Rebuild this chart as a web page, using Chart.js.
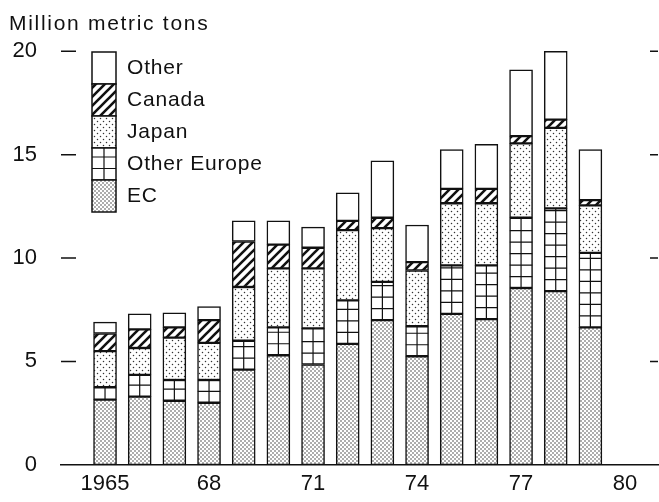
<!DOCTYPE html>
<html>
<head>
<meta charset="utf-8">
<script src="https://cdn.jsdelivr.net/npm/chart.js@4.4.1/dist/chart.umd.min.js"></script>
<style>
  html, body { margin: 0; padding: 0; background: #fff; }
  #wrap { width: 659px; height: 502px; }
</style>
</head>
<body>
<div id="wrap"><canvas id="myChart" width="659" height="502"></canvas></div>
<script>
// values, million metric tons
const years = [1965, 1966, 1967, 1968, 1969, 1970, 1971, 1972, 1973, 1974, 1975, 1976, 1977, 1978, 1979];
const ecData          = [3.15, 3.3, 3.1, 3.0, 4.6, 5.3, 4.85, 5.85, 7.0, 5.25, 7.3, 7.05, 8.55, 8.4, 6.65];
const otherEuropeData = [0.6, 1.05, 1.0, 1.1, 1.4, 1.35, 1.75, 2.1, 1.85, 1.45, 2.35, 2.6, 3.4, 4.0, 3.6];
const japanData       = [1.75, 1.3, 2.05, 1.8, 2.6, 2.85, 2.9, 3.4, 2.6, 2.7, 3.0, 3.0, 3.6, 3.9, 2.3];
const canadaData      = [0.85, 0.9, 0.5, 1.1, 2.2, 1.15, 1.0, 0.45, 0.5, 0.4, 0.7, 0.7, 0.35, 0.4, 0.25];
const otherData       = [0.55, 0.75, 0.7, 0.65, 1.0, 1.15, 1.0, 1.35, 2.75, 1.8, 1.9, 2.15, 3.2, 3.3, 2.45];
const seriesNames = ['EC', 'Other Europe', 'Japan', 'Canada', 'Other'];
const xTickYears = [1965, 1968, 1971, 1974, 1977, 1980];
const yTickValues = [0, 5, 10, 15, 20];

const FONT = '"Liberation Sans", Arial, Helvetica, sans-serif';
const INK = '#111';

function dotPattern(size, r, shade) {
    const c = document.createElement('canvas');
    c.width = c.height = size;
    const g = c.getContext('2d');
    g.fillStyle = '#fff';
    g.fillRect(0, 0, size, size);
    g.fillStyle = shade;
    [[size / 4, size / 4], [size * 3 / 4, size * 3 / 4]].forEach(p => {
        g.beginPath();
        g.arc(p[0], p[1], r, 0, Math.PI * 2);
        g.fill();
    });
    return g.createPattern(c, 'repeat');
}

function hatchPattern() {
    const s = 9;
    const c = document.createElement('canvas');
    c.width = c.height = s;
    const g = c.getContext('2d');
    g.fillStyle = '#fff';
    g.fillRect(0, 0, s, s);
    g.strokeStyle = '#111';
    g.lineWidth = 2.6;
    g.beginPath();
    g.moveTo(-1, s + 1); g.lineTo(s + 1, -1);
    g.moveTo(-2, 2); g.lineTo(2, -2);
    g.moveTo(s - 2, s + 2); g.lineTo(s + 2, s - 2);
    g.stroke();
    return g.createPattern(c, 'repeat');
}

const fills = [dotPattern(4, 0.75, '#333'), '#fff', dotPattern(6, 0.75, '#333'), hatchPattern(), '#fff'];
const seriesValues = [ecData, otherEuropeData, japanData, canadaData, otherData];

// grid lines inside an "Other Europe" box
function drawGridCells(ctx, left, top, right, bottom) {
    ctx.save();
    ctx.beginPath();
    ctx.rect(left, top, right - left, bottom - top);
    ctx.clip();
    ctx.strokeStyle = INK;
    ctx.lineWidth = 1.2;
    ctx.beginPath();
    const mid = (left + right) / 2;
    ctx.moveTo(mid, top); ctx.lineTo(mid, bottom);
    for (let y = bottom - 11.5; y > top + 2; y -= 11.5) {
        ctx.moveTo(left, y); ctx.lineTo(right, y);
    }
    ctx.stroke();
    ctx.restore();
}

const decorPlugin = {
    id: 'decor',
    afterDatasetsDraw(chart) {
        const ctx = chart.ctx;
        const area = chart.chartArea;
        const yAxis = chart.scales.y;

        // cells on the Other Europe bars
        chart.getDatasetMeta(1).data.forEach(bar => {
            const half = bar.width / 2;
            drawGridCells(ctx, bar.x - half, bar.y, bar.x + half, bar.base);
        });

        // short dashes at both sides
        ctx.save();
        ctx.strokeStyle = INK;
        ctx.lineWidth = 1.5;
        yTickValues.forEach(v => {
            if (v === 0) return;
            const y = yAxis.getPixelForValue(v);
            ctx.beginPath();
            ctx.moveTo(area.left, y); ctx.lineTo(area.left + 15, y);
            ctx.moveTo(area.right - 8, y); ctx.lineTo(area.right, y);
            ctx.stroke();
        });
        ctx.restore();

        // legend column
        ctx.save();
        const lx = 92, lw = 24, lh = 32;
        let ly = 52;
        for (let i = seriesNames.length - 1; i >= 0; i--) {
            ctx.fillStyle = fills[i];
            ctx.fillRect(lx, ly, lw, lh);
            if (i === 1) drawGridCells(ctx, lx, ly, lx + lw, ly + lh);
            ctx.strokeStyle = INK;
            ctx.lineWidth = 1.5;
            ctx.strokeRect(lx, ly, lw, lh);
            ctx.fillStyle = INK;
            ctx.font = '21px ' + FONT;
            ctx.letterSpacing = '0.8px';
            ctx.textBaseline = 'alphabetic';
            ctx.fillText(seriesNames[i], 127, ly + lh / 2 + 6);
            ly += lh;
        }
        // unit label
        ctx.font = '21px ' + FONT;
        ctx.letterSpacing = '1.7px';
        ctx.fillText('Million metric tons', 9, 30);
        ctx.restore();
    }
};

const datasets = seriesNames.map((name, i) => ({
    label: name,
    data: years.map((yr, j) => ({ x: yr, y: seriesValues[i][j] })),
    backgroundColor: fills[i],
    borderColor: INK,
    borderWidth: 1.5,
    borderSkipped: false,
    barThickness: 23
}));

const config = {
    type: 'bar',
    data: { datasets: datasets },
    options: {
        responsive: false,
        animation: false,
        layout: { padding: { top: 41, right: 1, left: 0, bottom: 0 } },
        scales: {
            x: {
                type: 'linear',
                stacked: true,
                offset: false,
                min: 1963.73,
                max: 1980.95,
                grid: { display: false, drawTicks: false, offset: false },
                border: { display: true, color: INK, width: 1.5 },
                afterBuildTicks: axis => { axis.ticks = xTickYears.map(v => ({ value: v })); },
                afterFit: axis => { axis.height = 36; },
                ticks: {
                    color: INK,
                    padding: 6,
                    maxRotation: 0,
                    font: { family: FONT, size: 22 },
                    callback: value => value === 1965 ? '1965' : String(value).slice(2)
                }
            },
            y: {
                stacked: true,
                min: 0,
                max: 20.5,
                grid: { display: false, drawTicks: false },
                border: { display: false },
                afterBuildTicks: axis => { axis.ticks = yTickValues.map(v => ({ value: v })); },
                afterFit: axis => { axis.width = 61; },
                ticks: {
                    color: INK,
                    padding: 24,
                    font: { family: FONT, size: 22 }
                }
            }
        },
        plugins: {
            legend: { display: false },
            tooltip: { enabled: false }
        }
    },
    plugins: [decorPlugin]
};

const myChart = document.getElementById('myChart');
const chart = new Chart(myChart, config);
</script>
</body>
</html>
